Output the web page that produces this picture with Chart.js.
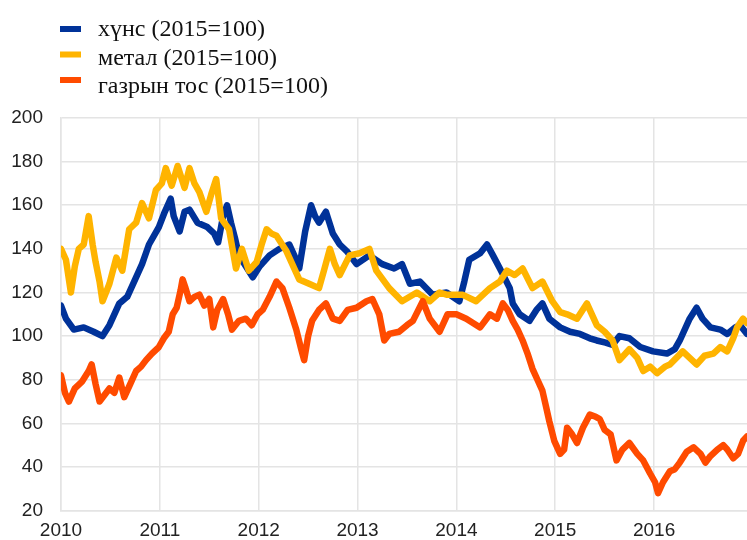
<!DOCTYPE html>
<html>
<head>
<meta charset="utf-8">
<script src="https://cdn.jsdelivr.net/npm/chart.js@4.4.1/dist/chart.umd.min.js"></script>
<style>
  html, body { margin: 0; padding: 0; background: #fff; }
  #wrap { width: 747px; height: 540px; position: relative; }
</style>
</head>
<body>
<div id="wrap"><canvas id="chart"></canvas></div>
<script>
// series labels
const labels = ['хүнс (2015=100)', 'метал (2015=100)', 'газрын тос (2015=100)'];
const yearTicks = [2010, 2011, 2012, 2013, 2014, 2015, 2016];

// food (decimal years, index)
const foodT = [2010.00, 2010.05, 2010.13, 2010.23, 2010.33, 2010.42, 2010.49, 2010.59, 2010.67, 2010.74,
  2010.82, 2010.89, 2010.99, 2011.05, 2011.11, 2011.14, 2011.20, 2011.25, 2011.30, 2011.38,
  2011.48, 2011.55, 2011.59, 2011.64, 2011.68, 2011.72, 2011.76, 2011.80, 2011.87, 2011.94,
  2012.01, 2012.11, 2012.21, 2012.31, 2012.37, 2012.41, 2012.47, 2012.53, 2012.57, 2012.61,
  2012.68, 2012.75, 2012.82, 2012.89, 2012.99, 2013.12, 2013.25, 2013.37, 2013.45, 2013.53,
  2013.63, 2013.76, 2013.90, 2014.03, 2014.08, 2014.13, 2014.24, 2014.31, 2014.37, 2014.44,
  2014.54, 2014.57, 2014.64, 2014.74, 2014.81, 2014.87, 2014.94, 2015.05, 2015.15, 2015.25,
  2015.35, 2015.42, 2015.51, 2015.58, 2015.65, 2015.75, 2015.86, 2015.99, 2016.13, 2016.21,
  2016.26, 2016.36, 2016.43, 2016.49, 2016.57, 2016.67, 2016.74, 2016.82, 2016.87, 2016.94];
const foodV = [114, 108, 103, 104, 102, 100, 105, 115, 118, 125,
  133, 142, 150, 157, 163, 155, 148, 157, 158, 152,
  150, 147, 143, 155, 160, 152, 145, 137, 132, 127,
  132, 137, 140, 142, 136, 131, 148, 160, 155, 152,
  157, 147, 142, 139, 133, 137, 133, 131, 133, 124,
  125, 119, 120, 116, 125, 135, 138, 142, 137, 131,
  122, 115, 110, 107, 112, 115, 108, 104, 102, 101,
  99, 98, 97, 96, 100, 99, 95, 93, 92, 94,
  98, 108, 113, 108, 104, 103, 101, 104, 105, 101];

// metals
const metalT = [2010.00, 2010.05, 2010.10, 2010.14, 2010.18, 2010.23, 2010.28, 2010.32, 2010.35, 2010.39,
  2010.42, 2010.49, 2010.56, 2010.62, 2010.69, 2010.76, 2010.82, 2010.89, 2010.96, 2011.02,
  2011.06, 2011.12, 2011.18, 2011.25, 2011.30, 2011.35, 2011.40, 2011.47, 2011.52, 2011.57,
  2011.62, 2011.70, 2011.77, 2011.83, 2011.90, 2011.98, 2012.03, 2012.08, 2012.13, 2012.18,
  2012.28, 2012.35, 2012.41, 2012.51, 2012.61, 2012.66, 2012.72, 2012.77, 2012.82, 2012.92,
  2013.02, 2013.12, 2013.19, 2013.32, 2013.45, 2013.60, 2013.73, 2013.83, 2013.90, 2014.06,
  2014.20, 2014.34, 2014.44, 2014.51, 2014.59, 2014.67, 2014.77, 2014.87, 2014.97, 2015.05,
  2015.12, 2015.22, 2015.32, 2015.42, 2015.50, 2015.58, 2015.65, 2015.75, 2015.83, 2015.89,
  2015.96, 2016.03, 2016.11, 2016.16, 2016.29, 2016.36, 2016.43, 2016.51, 2016.60, 2016.67,
  2016.74, 2016.80, 2016.84, 2016.90, 2016.94];
const metalV = [140, 135, 120, 132, 140, 142, 155, 142, 134, 125,
  116, 124, 136, 130, 149, 152, 161, 154, 167, 170,
  177, 169, 178, 168, 177, 170, 166, 157, 165, 172,
  154, 149, 131, 140, 130, 134, 142, 149, 147, 146,
  139, 132, 126, 124, 122, 130, 140, 133, 128, 137,
  138, 140, 130, 122, 116, 120, 116, 120, 119, 119,
  116, 122, 125, 130, 128, 131, 122, 125, 116, 111,
  110, 108, 115, 105, 102, 98, 89, 94, 90, 84,
  86, 83, 86, 87, 93, 90, 87, 91, 92, 95,
  93, 99, 104, 108, 106];

// crude oil
const oilT = [2010.00, 2010.04, 2010.08, 2010.14, 2010.21, 2010.28, 2010.31, 2010.35, 2010.39, 2010.44,
  2010.49, 2010.54, 2010.59, 2010.64, 2010.70, 2010.76, 2010.81, 2010.86, 2010.92, 2010.99,
  2011.04, 2011.09, 2011.13, 2011.17, 2011.21, 2011.23, 2011.26, 2011.30, 2011.35, 2011.40,
  2011.45, 2011.50, 2011.54, 2011.58, 2011.64, 2011.69, 2011.73, 2011.80, 2011.87, 2011.93,
  2011.99, 2012.04, 2012.11, 2012.18, 2012.24, 2012.31, 2012.38, 2012.43, 2012.46, 2012.50,
  2012.54, 2012.61, 2012.68, 2012.75, 2012.82, 2012.90, 2012.99, 2013.09, 2013.15, 2013.22,
  2013.27, 2013.32, 2013.42, 2013.50, 2013.56, 2013.66, 2013.73, 2013.83, 2013.91, 2014.00,
  2014.10, 2014.24, 2014.34, 2014.41, 2014.47, 2014.52, 2014.57, 2014.62, 2014.67, 2014.72,
  2014.77, 2014.82, 2014.87, 2014.91, 2014.94, 2014.99, 2015.05, 2015.09, 2015.12, 2015.17,
  2015.22, 2015.28, 2015.35, 2015.41, 2015.45, 2015.50, 2015.56, 2015.60, 2015.62, 2015.68,
  2015.75, 2015.83, 2015.89, 2015.96, 2016.01, 2016.04, 2016.09, 2016.16, 2016.21, 2016.26,
  2016.33, 2016.40, 2016.47, 2016.52, 2016.57, 2016.64, 2016.70, 2016.74, 2016.80, 2016.85,
  2016.90, 2016.94];
const oilV = [82, 74, 70, 76, 79, 84, 87, 78, 70, 73,
  76, 74, 81, 72, 78, 84, 86, 89, 92, 95,
  99, 102, 110, 113, 121, 126, 122, 116, 118, 119,
  114, 117, 104, 112, 117, 110, 103, 107, 108, 105,
  110, 112, 118, 125, 122, 113, 103, 94, 89, 100,
  107, 112, 115, 108, 107, 112, 113, 116, 117, 110,
  98, 101, 102, 105, 107, 116, 108, 102, 110, 110,
  108, 104, 110, 108, 115, 112, 107, 103, 98, 92,
  85, 80, 75, 67, 61, 52, 46, 48, 58, 55,
  51, 58, 64, 63, 62, 57, 55, 47, 43, 48,
  51, 46, 43, 37, 33, 28, 33, 38, 39, 42,
  47, 49, 46, 42, 45, 48, 50, 48, 44, 46,
  52, 54];

const colors = ['#003299', '#ffb400', '#ff4b00'];

const toXY = (t, v) => t.map((x, i) => ({ x: x, y: v[i] }));

// legend drawn by hand: short bars stacked at the top left
const stackedLegend = {
  id: 'stackedLegend',
  afterDraw: (chart) => {
    const { ctx } = chart;
    ctx.save();
    ctx.font = '24px "Liberation Serif", "Times New Roman", serif';
    ctx.textBaseline = 'middle';
    chart.data.datasets.forEach((ds, i) => {
      const y = 29 + i * 25.5;
      ctx.fillStyle = ds.borderColor;
      ctx.fillRect(60, y - 3, 21, 6);
      ctx.fillStyle = '#111';
      ctx.fillText(ds.label, 98, 30 + i * 28.5);
    });
    ctx.restore();
  },
};

new Chart(document.getElementById('chart'), {
  type: 'line',
  data: {
    datasets: [
      { label: labels[0], data: toXY(foodT, foodV), borderColor: colors[0], order: 2 },
      { label: labels[1], data: toXY(metalT, metalV), borderColor: colors[1], order: 1 },
      { label: labels[2], data: toXY(oilT, oilV), borderColor: colors[2], order: 0 },
    ],
  },
  options: {
    responsive: true,
    maintainAspectRatio: false,
    animation: false,
    layout: { padding: { top: 118, right: 0, bottom: 0, left: 0 } },
    elements: {
      line: { borderWidth: 6.5, tension: 0, borderJoinStyle: 'round', borderCapStyle: 'round' },
      point: { radius: 0 },
    },
    plugins: {
      legend: { display: false },
      tooltip: { enabled: false },
    },
    scales: {
      x: {
        type: 'linear',
        min: 2010,
        max: 2016.94,
        afterBuildTicks: (scale) => { scale.ticks = yearTicks.map((v) => ({ value: v })); },
        afterFit: (scale) => { scale.height = 29; },
        grid: { color: '#e4e4e4', lineWidth: 1.5, drawTicks: false },
        border: { color: '#e4e4e4', width: 1.5 },
        ticks: {
          padding: 9,
          color: '#222',
          font: { family: '"Liberation Sans", Arial, sans-serif', size: 19 },
          callback: (v) => String(v),
          maxRotation: 0,
        },
      },
      y: {
        min: 20,
        max: 200,
        afterFit: (scale) => { scale.width = 61; },
        grid: { color: '#e4e4e4', lineWidth: 1.5, drawTicks: false },
        border: { color: '#e4e4e4', width: 1.5 },
        ticks: {
          stepSize: 20,
          padding: 18,
          color: '#222',
          font: { family: '"Liberation Sans", Arial, sans-serif', size: 19 },
        },
      },
    },
  },
  plugins: [stackedLegend],
});
</script>
</body>
</html>
